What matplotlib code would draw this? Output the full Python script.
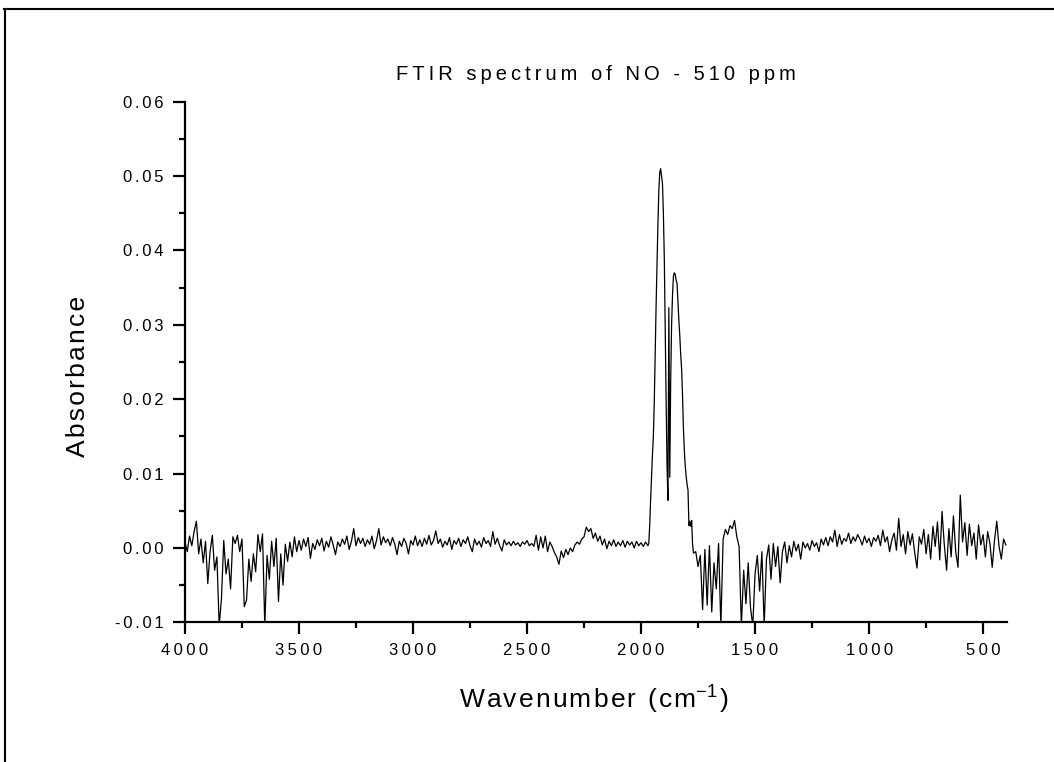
import numpy as np
import matplotlib
matplotlib.use('Agg')
import matplotlib.pyplot as plt
from matplotlib.lines import Line2D
from matplotlib.ticker import MultipleLocator, FuncFormatter

plt.rcParams['font.family'] = ['Liberation Sans', 'DejaVu Sans']
plt.rcParams['mathtext.default'] = 'regular'

TITLE = 'FTIR spectrum of NO - 510 ppm'
X_LABEL = 'Wavenumber (cm'
Y_LABEL = 'Absorbance'

# wavenumber sampling (cm-1): coarse baseline, finer over the NO band
wn_high = np.arange(4000, 1969, -10)
wn_band = np.arange(1966, 1769, -4)
wn_low = np.arange(1760, 399, -10)

# absorbance, in units of 1e-3
abs_high = [
    0.8, -0.5, 1.6, 0.3, 2.2, 3.6, -0.8, 1.2, -2.0, 0.9,
    -4.8, -0.5, 1.7, -3.0, -1.2, -10.5, -6.8, 1.0, -3.5, -1.5,
    -5.5, 1.5, 0.6, 1.7, -0.5, 1.2, -7.9, -7.0, -1.5, -4.5,
    -0.8, -3.2, 1.8, -0.5, 1.9, -10.5, -1.0, -4.2, 0.9, -2.5,
    1.3, -7.2, -0.8, -5.0, 0.5, -1.8, 0.8, -1.2, 1.5, -0.5,
    1.0, -0.3, 1.2, 0.2, 1.4, -1.4, 0.6, -0.2, 1.1, 0.3,
    1.3, -0.4, 0.9, 0.1, 1.5, 0.4, -0.9, 0.8, 0.2, 1.2,
    0.5, 1.6, -0.2, 0.9, 2.6, 0.3, 1.4, 0.6, 1.3, 0.2,
    1.1, 0.5, 1.6, -0.1, 1.0, 2.6, 0.4, 1.5, 0.7, 1.2,
    0.3, 1.4, 0.5, -0.9, 0.9, 0.2, 1.3, 0.6, -0.8, 1.0,
    0.4, 1.6, 0.3, 1.1, 0.2, 1.3, 0.5, 1.7, 0.4, 1.0,
    2.3, 0.6, 1.2, 0.1, 0.9, 0.4, 1.4, -0.2, 1.0, 0.5,
    1.3, 0.2, 1.1, 0.6, 1.5, 0.3, -0.5, 1.2, 0.4, 0.9,
    0.1, 1.4, 0.6, 1.0, 0.2, 2.2, 0.5, 1.3, 0.3, -0.4,
    1.1, 0.4, 0.8, 0.3, 0.9, 0.4, 0.7, 0.2, 0.8, 0.5,
    1.0, 0.3, 0.6, 0.2, 1.7, -0.3, 1.5, 0.0, 1.6, -0.5,
    0.8, 0.2, -0.6, -1.2, -2.2, -0.4, -1.3, -0.2, -0.9, 0.0,
    -0.5, 0.4, 0.8, 0.5, 1.2, 1.5, 2.8, 2.2, 2.6, 1.3,
    2.0, 0.9, 1.6, 0.4, 1.2, -0.1, 0.9, 0.3, 1.1, 0.2,
    0.8, 0.3, 1.0, 0.1, 0.9, 0.4, 0.8, 0.0, 0.9, 0.3,
    0.7, 0.2, 0.8, 0.3,
]
abs_band = [
    0.6, 3.0, 6.5, 9.5, 12.5, 15.0, 19.5, 26.0, 32.5, 38.0,
    43.5, 48.0, 50.5, 51.0, 50.0, 49.0, 45.0, 39.0, 29.0, 20.0,
    11.0, 6.4, 32.3, 9.5, 22.5, 30.0, 34.0, 36.5, 37.0, 36.8,
    36.0, 35.5, 33.0, 30.5, 28.5, 26.0, 24.0, 20.5, 16.0, 13.0,
    11.0, 9.6, 8.5, 7.8, 3.0, 3.6, 2.9, 3.7, 0.5, -0.7,
]
abs_low = [
    -0.5, -2.5, -1.0, -8.3, -0.2, -7.7, 0.3, -8.6, -2.0, -5.5,
    0.6, -10.5, 1.2, 2.5, 1.8, 3.0, 2.6, 3.7, 1.5, 0.2,
    -10.5, -3.0, -7.5, -2.0, -8.0, -10.5, -3.5, -1.0, -5.8, -0.5,
    -10.5, -1.5, 0.4, -4.2, 0.6, -2.5, 0.2, -4.7, -0.5, 0.8,
    -2.0, 0.3, -1.2, 0.9, -0.4, 0.5, -1.5, 0.8, 0.0, 0.6,
    -0.3, 1.0, 0.2, 0.7, -0.5, 1.2, 0.4, 1.4, 0.3, 1.5,
    0.8, 2.4, 0.2, 1.8, 0.5, 1.3, 0.9, 2.0, 0.6, 1.5,
    0.9, 1.8, 1.2, 0.4, 1.6, 0.7, 1.3, 0.2, 1.4, 0.9,
    1.7, 0.3, 2.4, 0.8, 1.5, -0.5, 1.1, 2.0, -0.3, 4.0,
    0.2, 1.8, -0.8, 2.2, 0.4, 1.9, -0.6, -2.7, 1.5, 0.5,
    2.5, -0.8, 1.8, -1.5, 2.9, 0.2, 3.5, -1.6, 4.9, 0.4,
    -3.0, 2.6, -1.2, 4.3, -0.5, -2.6, 7.1, 0.8, 3.4, -1.0,
    3.2, 0.3, 2.0, -1.5, 3.1, 0.4, 1.8, -1.2, 2.2, 0.6,
    -2.6, 1.0, 3.6, 0.2, -1.5, 1.2, 0.4,
]

wavenumber = np.concatenate([wn_high, wn_band, wn_low])
absorbance = np.array(abs_high + abs_band + abs_low) / 1000.0

THIN = '\u2009'
SIXTH = '\u2006'
HAIR = '\u200a'


# Origin draws its text letter-spaced, fake it with narrow spaces
def spaced(s, sp):
    return sp.join(s)


def y_fmt(v, pos):
    if abs(v) < 1e-9:
        v = 0.0
    return spaced('%.2f' % v, SIXTH)


def x_fmt(v, pos):
    return spaced('%d' % round(v), THIN)


fig = plt.figure(figsize=(10.54, 7.62), dpi=100, facecolor='w')
ax = fig.add_axes([0.1755, 0.1833, 0.7795, 0.6832])

ax.plot(wavenumber, absorbance, color='k', linewidth=0.9)

ax.set_xlim(4000, 397)
ax.set_ylim(-0.01, 0.06)
ax.xaxis.set_major_locator(MultipleLocator(500))
ax.xaxis.set_minor_locator(MultipleLocator(250))
ax.yaxis.set_major_locator(MultipleLocator(0.01))
ax.yaxis.set_minor_locator(MultipleLocator(0.005))
ax.yaxis.set_major_formatter(FuncFormatter(y_fmt))
ax.xaxis.set_major_formatter(FuncFormatter(x_fmt))

for side in ['top', 'right']:
    ax.spines[side].set_visible(False)
for side in ['left', 'bottom']:
    ax.spines[side].set_linewidth(1.6)
ax.tick_params(which='major', direction='out', length=8.5, width=1.6,
               labelsize=12)
ax.tick_params(axis='y', which='major', pad=7)
ax.tick_params(axis='x', which='major', pad=6.5)
ax.tick_params(which='minor', direction='out', length=4.5, width=1.6)

ax.set_title(spaced(TITLE, THIN), fontsize=14.5, pad=16)
ax.set_xlabel(spaced(X_LABEL, HAIR) + '$^{-1}$' + HAIR + ')', fontsize=19)
ax.set_ylabel(spaced(Y_LABEL, HAIR), fontsize=19)
ax.xaxis.set_label_coords(0.498, -0.118)
ax.yaxis.set_label_coords(-0.116, 0.473)

# partial frame around the page
fig.add_artist(Line2D([0.004, 1.0], [0.988, 0.988], color='k', linewidth=1.5,
                      transform=fig.transFigure))
fig.add_artist(Line2D([0.005, 0.005], [0.0, 0.988], color='k', linewidth=1.5,
                      transform=fig.transFigure))

fig.savefig('out.png', dpi=100)
